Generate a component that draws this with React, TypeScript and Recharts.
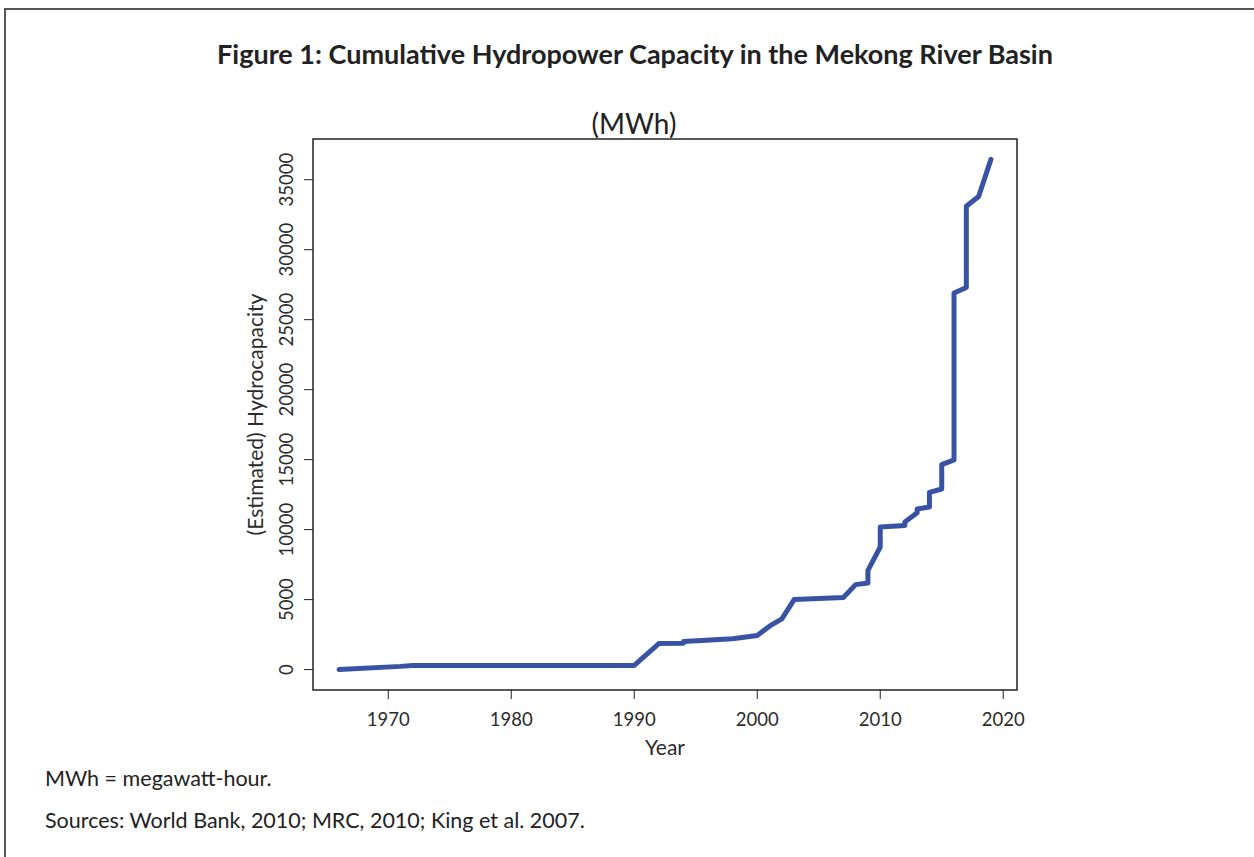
import React from 'react';
import { LineChart, Line, XAxis, YAxis, ReferenceArea, Label } from 'recharts';

// cumulative capacity (repeated years = several dams in one year)
const years = [
  1966, 1971, 1972, 1990, 1992, 1994, 1994, 1998, 2000, 2001, 2002, 2003, 2007, 2008, 2009, 2009,
  2010, 2010, 2012, 2012, 2013, 2013, 2014, 2014, 2015, 2015, 2016, 2016, 2017, 2017, 2018, 2019,
];
const capacity = [
  0, 230, 300, 300, 1860, 1880, 2000, 2200, 2430, 3100, 3620, 5000, 5150, 6070, 6190, 7090,
  8760, 10190, 10290, 10550, 11200, 11480, 11620, 12660, 12900, 14640, 14980, 26900, 27300, 33100, 33800, 36450,
];
const xTicks = [1970, 1980, 1990, 2000, 2010, 2020];
const yTicks = [0, 5000, 10000, 15000, 20000, 25000, 30000, 35000];

const data = years.map((year, i) => ({ year, value: capacity[i] }));

// R-style 4% padding on both axes
const pad = (lo: number, hi: number): [number, number] => {
  const d = (hi - lo) * 0.04;
  return [lo - d, hi + d];
};
const [xMin, xMax] = pad(Math.min(...years), Math.max(...years));
const [yMin, yMax] = pad(Math.min(...capacity), Math.max(...capacity));

const FONT = 'Lato, "Open Sans", sans-serif';
const TEXT = '#2b2b2b';

const YTick = (props: any) => {
  const { x, y, payload } = props;
  return (
    <text x={x} y={y} transform={`rotate(-90 ${x} ${y})`} textAnchor="middle" fontSize={18.5} fill={TEXT} fontFamily={FONT}>
      {payload.value}
    </text>
  );
};

const YTitle = (props: any) => {
  const { viewBox } = props;
  const cx = 263;
  const cy = viewBox.y + viewBox.height / 2;
  return (
    <text x={cx} y={cy} transform={`rotate(-90 ${cx} ${cy})`} textAnchor="middle" fontSize={21} fill={TEXT} fontFamily={FONT}>
      (Estimated) Hydrocapacity
    </text>
  );
};

export default function App() {
  return (
    <div style={{ position: 'absolute', left: 0, top: 0, width: 1254, height: 857, background: '#fff', fontFamily: FONT, overflow: 'hidden' }}>
      <div style={{ position: 'absolute', left: 4, top: 8, width: 1260, height: 860, borderTop: '2px solid #555', borderLeft: '2px solid #555' }} />
      <div style={{ position: 'absolute', left: 0, width: 1270, top: 37, textAlign: 'center', fontSize: 27, fontWeight: 700, color: '#222' }}>
        Figure 1: Cumulative Hydropower Capacity in the Mekong River Basin
      </div>
      <div style={{ position: 'absolute', left: 0, width: 1268, top: 106, textAlign: 'center', fontSize: 28, color: '#222' }}>
        (MWh)
      </div>
      <div style={{ position: 'absolute', left: 0, top: 0 }}>
        <LineChart width={1254} height={857} data={data} margin={{ top: 139, right: 237, bottom: 97, left: 253 }}>
          <XAxis
            type="number"
            dataKey="year"
            domain={[xMin, xMax]}
            ticks={xTicks}
            allowDataOverflow
            height={70}
            tickSize={9}
            tickMargin={14}
            stroke="#222"
            tick={{ fontSize: 18.5, fill: TEXT, fontFamily: FONT }}
            axisLine={false}
          >
            <Label value="Year" position="insideBottom" offset={5} fontSize={21} fill={TEXT} fontFamily={FONT} />
          </XAxis>
          <YAxis
            type="number"
            domain={[yMin, yMax]}
            ticks={yTicks}
            allowDataOverflow
            width={60}
            tickSize={9}
            tickMargin={11}
            stroke="#222"
            tick={<YTick />}
            axisLine={false}
          >
            <Label content={<YTitle />} />
          </YAxis>
          <ReferenceArea x1={xMin} x2={xMax} y1={yMin} y2={yMax} fill="none" stroke="#222" strokeWidth={1.5} fillOpacity={0} />
          <Line
            type="linear"
            dataKey="value"
            stroke="#3953a4"
            strokeWidth={5}
            dot={false}
            strokeLinejoin="round"
            strokeLinecap="round"
            isAnimationActive={false}
          />
        </LineChart>
      </div>
      <div style={{ position: 'absolute', left: 45, top: 765, fontSize: 21.5, color: '#222' }}>MWh = megawatt-hour.</div>
      <div style={{ position: 'absolute', left: 45, top: 807, fontSize: 21.5, color: '#222' }}>
        Sources: World Bank, 2010; MRC, 2010; King et al. 2007.
      </div>
    </div>
  );
}
